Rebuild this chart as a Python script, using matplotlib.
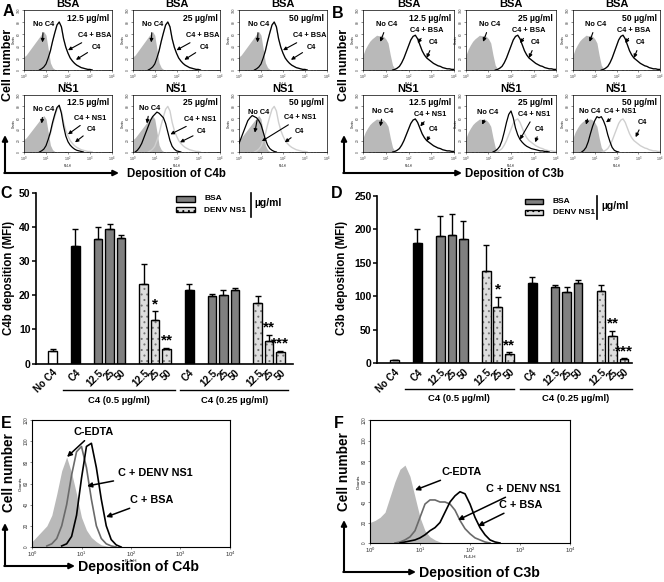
import numpy as np
import matplotlib.pyplot as plt
from matplotlib.patches import Rectangle
from matplotlib.ticker import LogLocator, NullFormatter

plt.rcParams['font.family'] = ['Liberation Sans', 'DejaVu Sans']
plt.rcParams['font.weight'] = 'bold'
plt.rcParams['mathtext.default'] = 'regular'
plt.rcParams['hatch.linewidth'] = 0.7

# ---------------- data ----------------
# flow histograms: (first decade, counts every 0.1 decade)
A_NOC4 = (0.0, [22, 25, 30, 35, 40, 45, 50, 55, 60, 64, 58, 35, 12, 4, 1, 0])
A_C4 = (0.7, [0, 2, 5, 10, 20, 32, 48, 62, 75, 80, 72, 52, 38, 28, 20, 15, 11, 8, 6, 4, 3, 2, 1, 1, 0])
A_NS1_12 = (0.7, [0, 2, 5, 11, 22, 35, 52, 66, 78, 82, 68, 45, 28, 18, 12, 8, 5, 3, 2, 1, 0])
A_NS1_25 = (0.1, [0, 3, 8, 15, 25, 35, 45, 55, 62, 66, 70, 68, 64, 60, 50, 35, 20, 10, 5, 2, 1, 0])
A_NS1_50 = (0.0, [15, 25, 35, 45, 55, 60, 64, 62, 60, 55, 48, 35, 22, 12, 6, 3, 1, 0])

B_NOC4 = (0.0, [25, 35, 42, 48, 52, 55, 58, 57, 58, 56, 52, 45, 25, 8, 2, 0])
B_C4 = (1.3, [0, 1, 3, 6, 12, 20, 30, 40, 50, 56, 58, 52, 42, 32, 25, 20, 17, 14, 11, 9, 7, 6, 4, 3, 2, 2, 1, 1])
B_NS1_25 = (1.2, [0, 2, 5, 10, 20, 35, 52, 66, 72, 60, 42, 30, 22, 17, 13, 10, 8, 6, 5, 4, 3, 2, 2, 1, 1, 0])
B_NS1_50 = (0.4, [0, 3, 8, 18, 32, 45, 55, 62, 60, 62, 55, 45, 30, 18, 8, 3, 1, 0])

E_EDTA = (0.0, [5, 10, 15, 20, 30, 50, 72, 85, 70, 50, 28, 16, 9, 5, 2, 1, 0])
E_NS1 = (0.3, [1, 3, 8, 20, 40, 68, 90, 95, 75, 45, 20, 8, 3, 1, 0])
E_BSA = (0.6, [1, 3, 10, 30, 65, 95, 98, 75, 45, 20, 7, 2, 0])

F_EDTA = (0.0, [20, 22, 25, 30, 45, 60, 72, 76, 65, 45, 25, 12, 6, 3, 1, 0])
F_NS1 = (0.5, [0, 1, 3, 6, 12, 25, 38, 42, 42, 40, 40, 38, 32, 22, 14, 9, 5, 3, 1, 0])
F_BSA = (0.6, [0, 1, 2, 3, 5, 8, 12, 15, 20, 30, 40, 46, 50, 48, 38, 25, 15, 8, 3, 1, 0])

CONCS = ['12.5 µg/ml', '25 µg/ml', '50 µg/ml']

# bar charts
KINDS = ['none', 'c4', 'bsa', 'bsa', 'bsa', 'ns1', 'ns1', 'ns1',
         'c4', 'bsa', 'bsa', 'bsa', 'ns1', 'ns1', 'ns1']
TICK_LABELS = ['No C4', 'C4', '12.5', '25', '50', '12.5', '25', '50',
               'C4', '12.5', '25', '50', '12.5', '25', '50']
SIG = ['', '', '', '', '', '', '*', '**', '', '', '', '', '', '**', '***']

C_MEAN = [3.8, 34.4, 36.6, 39.5, 36.9, 23.4, 12.8, 4.3, 21.5, 19.9, 20.0, 21.7, 17.8, 6.7, 3.5]
C_ERR = [0.5, 4.9, 3.5, 1.3, 0.9, 5.9, 2.6, 0.3, 1.9, 0.6, 1.5, 0.5, 1.9, 1.8, 0.3]
D_MEAN = [4, 179, 190, 192, 185, 138, 84, 13, 119, 113, 106, 119, 107, 40, 6.5]
D_ERR = [1, 21, 30, 30, 27, 38, 15, 3, 10, 4, 7, 5, 9, 8, 1]

# ---------------- figure ----------------
W, H = 664, 582
fig = plt.figure(figsize=(W / 100, H / 100), dpi=100)

GRAY_FILL = '#b9b9b9'
LIGHT = '#cfcfcf'
DARK = '#6a6a6a'


def px_axes(left, top, right, bottom):
    return fig.add_axes([left / W, 1 - bottom / H, (right - left) / W, (bottom - top) / H])


def hist_xy(curve):
    start, vals = curve
    logx = start + 0.1 * np.arange(len(vals))
    return 10 ** logx, np.array(vals)


def style_flow(ax, ymax, fs_x, fs_y, lw):
    ax.set_xscale('log')
    ax.set_xlim(1, 1e4)
    ax.set_ylim(0, ymax)
    ax.set_xticks([1, 10, 100, 1000, 10000])
    ax.set_xticklabels([r'$10^%d$' % i for i in range(5)], fontsize=fs_x, fontweight='normal')
    ax.xaxis.set_minor_locator(LogLocator(base=10, subs=np.arange(2, 10), numticks=20))
    ax.xaxis.set_minor_formatter(NullFormatter())
    ax.set_yticks(np.arange(0, ymax + 1, 20))
    ax.set_yticklabels([str(v) for v in range(0, ymax + 1, 20)], fontsize=fs_y,
                       rotation=90, va='center', fontweight='normal')
    ax.tick_params(length=1.5, width=0.4, pad=0.8, colors='#333333')
    ax.tick_params(which='minor', length=1, width=0.3)
    for s in ax.spines.values():
        s.set_linewidth(lw)
    ax.set_xlabel('FL4-H', fontsize=fs_x * 0.75, fontweight='normal', labelpad=0)
    ax.set_ylabel('Counts', fontsize=fs_x * 0.75, fontweight='normal', labelpad=0.5)


def small_hist(box, title, conc, nocurve, c4curve, treat, notes):
    ax = px_axes(*box)
    x, y = hist_xy(nocurve)
    ax.fill_between(x, y, color=GRAY_FILL, lw=0)
    x, y = hist_xy(c4curve)
    ax.plot(x, y, color=LIGHT, lw=1.0)
    x, y = hist_xy(treat)
    ax.plot(x, y, color='black', lw=0.9)
    style_flow(ax, 100, 2.6, 2.3, 0.5)
    ax.set_title(title, fontsize=8, fontweight='bold', pad=2.5)
    ax.text(0.97, 0.86, conc, transform=ax.transAxes, ha='right', va='center', fontsize=6.2)
    for label, txt, tip in notes:
        ax.annotate(label, xy=tip, xycoords='axes fraction', xytext=txt,
                    textcoords='axes fraction', ha='center', va='center', fontsize=5.3,
                    arrowprops=dict(arrowstyle='-|>', color='black', lw=0.8,
                                    mutation_scale=5, shrinkA=1, shrinkB=0))


# panels A and B
A_COLS = [(24, 112), (133, 220), (239, 327)]
B_COLS = [(363, 454), (466, 556), (573, 660)]
ROWS = [(10, 70), (95, 152)]

A_BSA_NOTES = [('No C4', (0.22, 0.75), (0.21, 0.46)),
               ('C4 + BSA', (0.80, 0.57), (0.5, 0.33)),
               ('C4', (0.82, 0.38), (0.59, 0.17))]
A_NS1_NOTES = [
    [('No C4', (0.22, 0.74), (0.2, 0.5)), ('C4 + NS1', (0.75, 0.59), (0.5, 0.31)),
     ('C4', (0.77, 0.4), (0.58, 0.17))],
    [('No C4', (0.19, 0.76), (0.16, 0.5)), ('C4 + NS1', (0.77, 0.57), (0.43, 0.31)),
     ('C4', (0.79, 0.36), (0.54, 0.17))],
    [('No C4', (0.22, 0.69), (0.18, 0.34)), ('C4 + NS1', (0.69, 0.6), (0.26, 0.19)),
     ('C4', (0.69, 0.36), (0.52, 0.17))],
]
A_TREAT = [A_NS1_12, A_NS1_25, A_NS1_50]
for i, (l, r) in enumerate(A_COLS):
    small_hist((l, ROWS[0][0], r, ROWS[0][1]), 'BSA', CONCS[i], A_NOC4, A_C4, A_C4, A_BSA_NOTES)
    small_hist((l, ROWS[1][0], r, ROWS[1][1]), 'NS1', CONCS[i], A_NOC4, A_C4, A_TREAT[i], A_NS1_NOTES[i])

B_BSA_NOTES = [('No C4', (0.26, 0.75), (0.19, 0.47)),
               ('C4 + BSA', (0.70, 0.65), (0.6, 0.45)),
               ('C4', (0.77, 0.45), (0.7, 0.2))]
B_NS1_NOTES = [
    [('No C4', (0.22, 0.71), (0.19, 0.45)), ('C4 + NS1', (0.74, 0.66), (0.63, 0.45)),
     ('C4', (0.77, 0.4), (0.7, 0.19))],
    [('No C4', (0.24, 0.69), (0.18, 0.48)), ('C4 + NS1', (0.76, 0.66), (0.6, 0.22)),
     ('C4', (0.82, 0.4), (0.77, 0.17))],
    [('No C4', (0.19, 0.71), (0.15, 0.48)), ('C4 + NS1', (0.54, 0.71), (0.38, 0.52)),
     ('C4', (0.8, 0.52), (0.72, 0.26))],
]
B_TREAT = [B_C4, B_NS1_25, B_NS1_50]
for i, (l, r) in enumerate(B_COLS):
    small_hist((l, ROWS[0][0], r, ROWS[0][1]), 'BSA', CONCS[i], B_NOC4, B_C4, B_C4, B_BSA_NOTES)
    small_hist((l, ROWS[1][0], r, ROWS[1][1]), 'NS1', CONCS[i], B_NOC4, B_C4, B_TREAT[i], B_NS1_NOTES[i])


# bar panels
def positions(kinds):
    pos, p = [], 0
    for i, k in enumerate(kinds):
        if i > 0:
            p += 1 if k == kinds[i - 1] else 2
        pos.append(p)
    return np.array(pos, dtype=float)


COLORS = {'none': 'white', 'c4': 'black', 'bsa': '#808080', 'ns1': '#dedede'}


def bar_panel(box, xlim, means, errs, ylim, yticks, leg, groups):
    ax = px_axes(*box)
    x = positions(KINDS)
    means = np.array(means)
    errs = np.array(errs)
    for k in COLORS:
        m = np.array([kk == k for kk in KINDS])
        if k == 'ns1':
            ax.bar(x[m], means[m], 0.75, color=COLORS[k], edgecolor='#777777', hatch='...', lw=0)
            ax.bar(x[m], means[m], 0.75, fill=False, edgecolor='black', lw=1.0)
        else:
            ax.bar(x[m], means[m], 0.75, color=COLORS[k], edgecolor='black', lw=1.0)
    ax.errorbar(x, means, yerr=[np.zeros_like(errs), errs], fmt='none', ecolor='black',
                elinewidth=1.0, capsize=2.2, capthick=1.0)
    for xi, m, e, s in zip(x, means, errs, SIG):
        if s:
            ax.text(xi, m + e, s, ha='center', va='bottom', fontsize=11, fontweight='bold',
                    linespacing=0.8)
    ax.set_xlim(*xlim)
    ax.set_ylim(*ylim)
    ax.set_yticks(yticks)
    ax.set_yticklabels([str(v) for v in yticks], fontsize=7.5, fontweight='bold')
    ax.set_xticks(x)
    ax.set_xticklabels(TICK_LABELS, rotation=45, ha='right', rotation_mode='anchor',
                       fontsize=7, fontweight='bold')
    ax.tick_params(axis='x', length=0, pad=3)
    ax.tick_params(axis='y', length=3, width=1.1, pad=1)
    for s in ['top', 'right']:
        ax.spines[s].set_visible(False)
    for s in ['left', 'bottom']:
        ax.spines[s].set_linewidth(1.2)
    tr = ax.get_xaxis_transform()
    for (x0, x1), label in groups:
        ax.plot([x0, x1], [-0.158, -0.158], color='black', lw=1.0, transform=tr, clip_on=False)
        ax.text((x0 + x1) / 2, -0.215, label, transform=tr, ha='center', va='center', fontsize=6.8)
    # legend
    bx0, bx1, tx, vx, ux = leg
    ax.add_patch(Rectangle((bx0, 0.95), bx1 - bx0, 0.03, transform=ax.transAxes,
                           facecolor=COLORS['bsa'], edgecolor='black', lw=1.0, clip_on=False))
    ax.add_patch(Rectangle((bx0, 0.886), bx1 - bx0, 0.03, transform=ax.transAxes,
                           facecolor=COLORS['ns1'], edgecolor='black', lw=1.0, hatch='...',
                           clip_on=False))
    ax.text(tx, 0.965, 'BSA', transform=ax.transAxes, va='center', fontsize=6)
    ax.text(tx, 0.9, 'DENV NS1', transform=ax.transAxes, va='center', fontsize=6)
    ax.plot([vx, vx], [0.86, 1.0], color='black', lw=1.2, transform=ax.transAxes, clip_on=False)
    ax.text(ux, 0.94, 'µg/ml', transform=ax.transAxes, va='center', fontsize=7.5)
    return ax


bar_panel((36, 193, 293, 363.5), (-1.45, 21.1), C_MEAN, C_ERR, (0, 50), [0, 10, 20, 30, 40, 50],
          (0.544, 0.619, 0.654, 0.835, 0.85),
          [((0.9, 10.75), 'C4 (0.5 µg/ml)'), ((11.2, 20.7), 'C4 (0.25 µg/ml)')])
bar_panel((377, 195.7, 632, 363), (-1.53, 20.7), D_MEAN, D_ERR, (0, 250), [0, 50, 100, 150, 200, 250],
          (0.58, 0.65, 0.69, 0.862, 0.878),
          [((0.9, 10.4), 'C4 (0.5 µg/ml)'), ((10.9, 20.7), 'C4 (0.25 µg/ml)')])


# big flow panels
def big_hist(box, edta, ns1, bsa, notes):
    ax = px_axes(*box)
    x, y = hist_xy(edta)
    ax.fill_between(x, y, color=GRAY_FILL, lw=0)
    x, y = hist_xy(ns1)
    ax.plot(x, y, color=DARK, lw=1.2)
    x, y = hist_xy(bsa)
    ax.plot(x, y, color='black', lw=1.2)
    style_flow(ax, 120, 4.3, 3.3, 0.8)
    for label, txt, tip in notes:
        ax.annotate(label, xy=tip, xycoords='axes fraction', xytext=txt,
                    textcoords='axes fraction', ha='center', va='center', fontsize=7.8,
                    arrowprops=dict(arrowstyle='-|>', color='black', lw=1.1,
                                    mutation_scale=7, shrinkA=1, shrinkB=0))


big_hist((32, 420, 230, 547), E_EDTA, E_NS1, E_BSA,
         [('C-EDTA', (0.313, 0.906), (0.177, 0.709)),
          ('C + DENV NS1', (0.621, 0.583), (0.278, 0.48)),
          ('C + BSA', (0.606, 0.37), (0.374, 0.236))])
big_hist((370, 420, 570, 543), F_EDTA, F_NS1, F_BSA,
         [('C-EDTA', (0.46, 0.577), (0.225, 0.43)),
          ('C + DENV NS1', (0.765, 0.44), (0.44, 0.187)),
          ('C + BSA', (0.755, 0.31), (0.54, 0.138))])

# overlay for letters, axis arrows and captions
ov = fig.add_axes([0, 0, 1, 1])
ov.set_xlim(0, W)
ov.set_ylim(H, 0)
ov.axis('off')
ov.patch.set_alpha(0)

for letter, (lx, ly) in {'A': (8, 11), 'B': (338, 13), 'C': (6, 193), 'D': (337, 193),
                         'E': (6, 423), 'F': (339, 423)}.items():
    ov.text(lx, ly, letter, ha='center', va='center', fontsize=11.5, fontweight='bold')

arrow_kw = dict(arrowstyle='-|>', color='black', lw=1.5, mutation_scale=8, shrinkA=0, shrinkB=0)


def l_arrow(x0, ytop, ycorner, xright):
    ov.annotate('', xy=(x0, ytop), xytext=(x0, ycorner), arrowprops=arrow_kw)
    ov.annotate('', xy=(xright, ycorner), xytext=(x0 - 0.7, ycorner), arrowprops=arrow_kw)


l_arrow(5, 135, 173, 119)
l_arrow(344, 135, 173, 462)
l_arrow(5, 523, 566, 75)
l_arrow(344, 520, 572, 416)

ov.text(8, 65, 'Cell number', rotation=90, ha='center', va='center', fontsize=9)
ov.text(344, 65, 'Cell number', rotation=90, ha='center', va='center', fontsize=9)
ov.text(127, 174, 'Deposition of C4b', ha='left', va='center', fontsize=8.3)
ov.text(465, 174, 'Deposition of C3b', ha='left', va='center', fontsize=8.3)
ov.text(9, 278, 'C4b deposition (MFI)', rotation=90, ha='center', va='center', fontsize=8.3)
ov.text(342, 278, 'C3b deposition (MFI)', rotation=90, ha='center', va='center', fontsize=8.3)
ov.text(9, 473, 'Cell number', rotation=90, ha='center', va='center', fontsize=9.8)
ov.text(344, 472, 'Cell number', rotation=90, ha='center', va='center', fontsize=9.8)
ov.text(78, 567, 'Deposition of C4b', ha='left', va='center', fontsize=10.2)
ov.text(419, 573, 'Deposition of C3b', ha='left', va='center', fontsize=10.2)

fig.savefig('out.png', dpi=100)
